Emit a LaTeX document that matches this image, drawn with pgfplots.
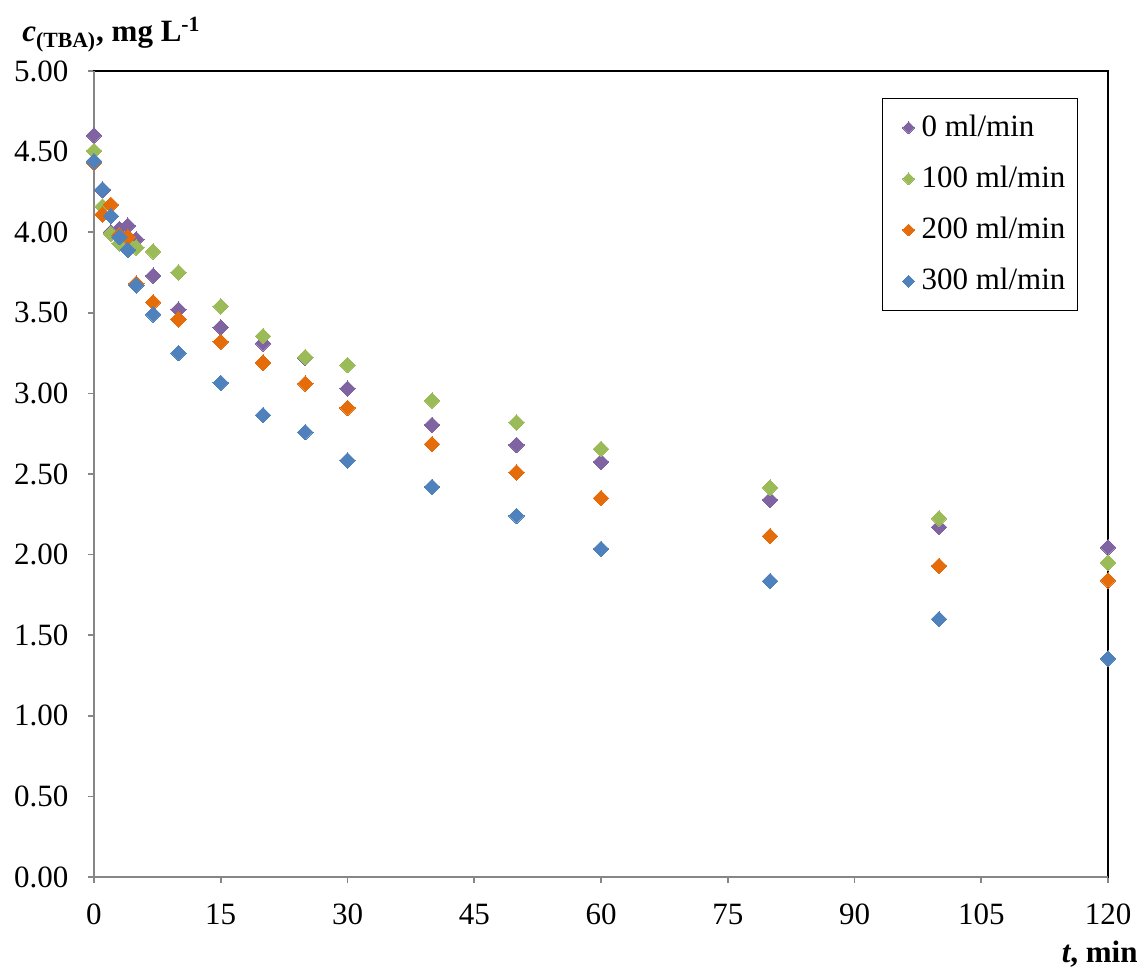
\documentclass[border=0pt]{standalone}
\usepackage{fontspec}
\setmainfont{Liberation Serif}
\usepackage{pgfplots}
\pgfplotsset{compat=1.18}
\definecolor{cpurple}{HTML}{8064A2}
\definecolor{cgreen}{HTML}{9BBB59}
\definecolor{corange}{HTML}{E46C0A}
\definecolor{cblue}{HTML}{4F81BD}
\definecolor{axgray}{HTML}{868686}
\begin{document}
\fontsize{15.5pt}{18pt}\selectfont
\begin{tikzpicture}
\begin{axis}[
  at={(0,0)}, anchor=south west,
  scale only axis, width=507pt, height=403pt,
  xmin=0, xmax=120, ymin=0, ymax=5,
  xtick={0,15,...,120}, ytick={0,0.5,...,5},
  xtick pos=bottom, ytick pos=left,
  tick align=outside, major tick length=3pt,
  every tick/.style={axgray, line width=0.8pt},
  axis line style={black, line width=0.6pt},
  yticklabel style={xshift=-4.5pt, /pgf/number format/fixed, /pgf/number format/fixed zerofill, /pgf/number format/precision=2, /pgf/number format/assume math mode=true},
  xticklabel style={yshift=-5pt, /pgf/number format/assume math mode=true},
  ticklabel style={font=\fontsize{15.5pt}{18pt}\selectfont},
  legend style={at={(rel axis cs:0.9704,0.9665)}, anchor=north east, draw=black, line width=0.6pt,
    font=\fontsize{15.5pt}{18pt}\selectfont, row sep=8.5pt, inner xsep=4pt, inner ysep=6pt},
  legend cell align=left,
  legend image code/.code={\path[draw=none] (-2.5pt,0pt) -- (11pt,0pt); \path[#1, mark size=2.1pt, draw=none] plot[only marks] coordinates {(6.5pt,0pt)};},
  every axis plot/.append style={only marks, mark=square*, mark size=2.75pt},
  clip=false,
]
\addplot[cpurple, mark options={rotate=45, line width=0pt, fill=cpurple, draw=cpurple}] table {
t y
0 4.60
1 4.26
2 4.00
3 4.02
4 4.04
5 3.955
7 3.73
10 3.52
15 3.41
20 3.31
25 3.22
30 3.03
40 2.805
50 2.68
60 2.575
80 2.34
100 2.17
120 2.045
};
\addlegendentry{0 ml/min}
\addplot[cgreen, mark options={rotate=45, line width=0pt, fill=cgreen, draw=cgreen}] table {
t y
0 4.505
1 4.16
2 3.99
3 3.93
4 3.93
5 3.905
7 3.88
10 3.75
15 3.54
20 3.355
25 3.225
30 3.175
40 2.955
50 2.82
60 2.655
80 2.415
100 2.225
120 1.95
};
\addlegendentry{100 ml/min}
\addplot[corange, mark options={rotate=45, line width=0pt, fill=corange, draw=corange}] table {
t y
0 4.43
1 4.11
2 4.17
3 3.98
4 3.97
5 3.68
7 3.565
10 3.46
15 3.32
20 3.19
25 3.06
30 2.91
40 2.685
50 2.51
60 2.35
80 2.115
100 1.93
120 1.84
};
\addlegendentry{200 ml/min}
\addplot[cblue, mark options={rotate=45, line width=0pt, fill=cblue, draw=cblue}] table {
t y
0 4.44
1 4.265
2 4.10
3 3.97
4 3.89
5 3.67
7 3.49
10 3.25
15 3.065
20 2.865
25 2.76
30 2.585
40 2.42
50 2.24
60 2.035
80 1.836
100 1.60
120 1.355
};
\addlegendentry{300 ml/min}
\draw[axgray, line width=1pt] (rel axis cs:0,1) -- (rel axis cs:0,0) -- (rel axis cs:1,0);
\end{axis}
\node[anchor=base west, inner sep=0pt] at (-36pt,417.5pt) {\bfseries\textit{c}\textsubscript{(TBA)}, mg L\textsuperscript{-1}};
\node[anchor=base east, inner sep=0pt] at (522pt,-42.5pt) {\bfseries\textit{t}, min};
\path (-47pt,-45.5pt) rectangle (525pt,438.5pt);
\end{tikzpicture}
\end{document}
